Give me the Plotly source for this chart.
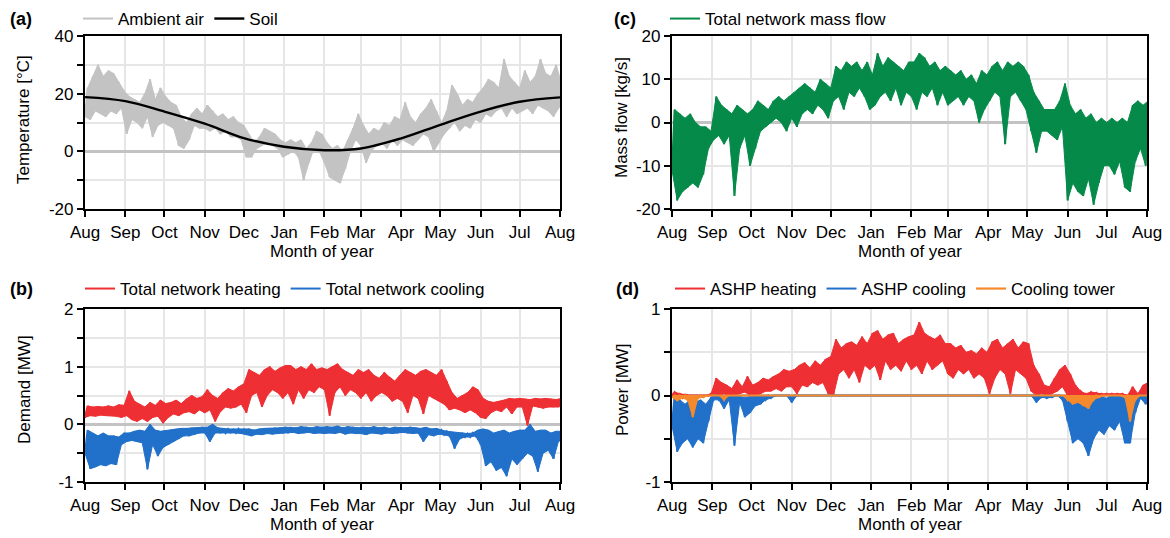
import pandas as pd
import plotly.graph_objects as go

# The page body has an 8px margin, so the figure is sized to fill the rest of the window.
OFF = 8
W, H = 1170 - OFF, 538 - OFF
base = pd.Timestamp("2018-08-01")
months = ["Aug", "Sep", "Oct", "Nov", "Dec", "Jan", "Feb", "Mar", "Apr", "May", "Jun", "Jul", "Aug"]
month_starts = pd.date_range("2018-08-01", "2019-08-01", freq="MS")

# 4-day steps (92 per series): rows = Aug, Sep, Oct, Nov, Dec, Jan, Feb, Mar, Apr, May, Jun, Jul
# counts per row: 8,8,7,8,8,7,7,8,8,7,8,8
air_hi = [22, 26, 30, 26, 28, 27, 24, 21,
          19, 18, 17, 20, 25, 18, 22, 19,
          17, 16, 12, 10, 13, 15, 13,
          16, 14, 12, 13, 11, 12, 10, 9,
          6, 3, 5, 8, 7, 6, 4, 3,
          4, 3, 4, 1, 3, 7, 6,
          3, 1, 2, 0, 4, 8, 13,
          9, 6, 8, 7, 10, 9, 12, 11,
          17, 12, 10, 13, 15, 18, 14, 10,
          14, 23, 20, 16, 18, 17, 20,
          22, 25, 24, 22, 32, 26, 24, 22,
          28, 24, 26, 32, 27, 26, 30, 24]
air_lo = [12, 11, 14, 13, 12, 14, 13, 15,
          6, 11, 10, 8, 12, 5, 9, 10,
          9, 8, 2, 1, 4, 9, 8,
          8, 7, 8, 6, 7, 5, 5, 4,
          -2, -2, 1, 2, 3, 2, 1, -2,
          -1, 0, -2, -10, -4, 1, 0,
          -4, -9, -10, -11, -6, 0, 4,
          2, -4, 0, 2, 3, 1, 4, 2,
          4, 3, 2, 4, 6, 5, 0, 3,
          6, 8, 10, 7, 9, 8, 11,
          10, 13, 12, 14, 15, 12, 15, 13,
          14, 15, 13, 16, 15, 14, 12, 15]
# soil temperature at month starts (Aug .. Aug)
soil_month = [18.8, 17.4, 13.8, 9.6, 4.6, 1.6, 0.4, 1.0, 4.5, 9.2, 13.8, 17.2, 18.7]

heat_hi = [0.32, 0.30, 0.31, 0.30, 0.32, 0.30, 0.34, 0.33,
           0.58, 0.40, 0.35, 0.30, 0.38, 0.33, 0.42, 0.36,
           0.38, 0.42, 0.36, 0.44, 0.50, 0.45, 0.48,
           0.60, 0.50, 0.45, 0.55, 0.62, 0.58, 0.65, 0.70,
           0.95, 0.90, 0.85, 0.95, 1.00, 0.92, 0.98, 1.02,
           1.02, 0.95, 1.00, 0.95, 1.05, 0.95, 0.98,
           0.95, 1.00, 1.05, 0.95, 0.90, 0.85, 0.95,
           0.90, 0.95, 0.85, 0.80, 0.90, 0.82, 0.75, 0.85,
           0.95, 0.90, 0.85, 0.92, 0.95, 0.90, 0.85, 0.95,
           0.75, 0.55, 0.45, 0.50, 0.55, 0.65, 0.60,
           0.45, 0.40, 0.38, 0.40, 0.42, 0.45, 0.44, 0.45,
           0.44, 0.43, 0.45, 0.44, 0.45, 0.44, 0.43, 0.45]
heat_lo = [0.12, 0.15, 0.14, 0.16, 0.15, 0.15, 0.14, 0.12,
           0.15, 0.08, 0.05, 0.10, 0.05, 0.12, 0.14, 0.02,
           0.12, 0.18, 0.15, 0.20, 0.22, 0.18, 0.25,
           0.20, 0.25, 0.05, 0.22, 0.30, 0.28, 0.30, 0.35,
           0.20, 0.50, 0.55, 0.30, 0.50, 0.60, 0.55, 0.45,
           0.55, 0.35, 0.60, 0.45, 0.60, 0.55, 0.65,
           0.60, 0.15, 0.55, 0.65, 0.50, 0.60, 0.55,
           0.45, 0.55, 0.40, 0.50, 0.55, 0.50, 0.40, 0.45,
           0.40, 0.20, 0.50, 0.45, 0.18, 0.50, 0.45, 0.40,
           0.35, 0.25, 0.28, 0.25, 0.20, 0.25, 0.20,
           0.12, 0.10, 0.20, 0.25, 0.22, 0.30, 0.18, 0.30,
           0.30, -0.02, 0.32, 0.30, 0.28, 0.30, 0.30, 0.30]
cool_hi = [-0.10, -0.15, -0.20, -0.15, -0.20, -0.20, -0.22, -0.15,
           -0.15, -0.12, -0.10, -0.12, 0.00, -0.10, -0.12, -0.10,
           -0.10, -0.08, -0.07, -0.07, -0.06, -0.06, -0.05,
           -0.05, 0.00, -0.06, -0.07, -0.08, -0.09, -0.08, -0.08,
           -0.08, -0.10, -0.08, -0.07, -0.07, -0.06, -0.06, -0.05,
           -0.05, -0.06, -0.04, -0.05, -0.06, -0.04, -0.05,
           -0.04, -0.05, -0.03, -0.06, -0.04, -0.05, -0.06,
           -0.05, -0.06, -0.04, -0.06, -0.05, -0.07, -0.05, -0.06,
           -0.06, -0.05, -0.06, -0.07, -0.05, -0.08, -0.07, -0.10,
           -0.12, -0.14, -0.15, -0.15, -0.16, -0.15, -0.10,
           -0.08, -0.10, -0.15, -0.12, -0.10, -0.15, -0.12, -0.10,
           -0.10, 0.00, -0.12, -0.10, -0.10, -0.15, -0.12, -0.12]
cool_lo = [-0.50, -0.77, -0.74, -0.70, -0.72, -0.68, -0.70, -0.35,
           -0.30, -0.28, -0.30, -0.32, -0.78, -0.35, -0.55, -0.40,
           -0.35, -0.30, -0.25, -0.20, -0.20, -0.18, -0.15,
           -0.15, -0.30, -0.15, -0.15, -0.15, -0.14, -0.15, -0.16,
           -0.18, -0.20, -0.17, -0.18, -0.16, -0.17, -0.16, -0.15,
           -0.15, -0.14, -0.16, -0.15, -0.14, -0.16, -0.15,
           -0.16, -0.15, -0.16, -0.14, -0.17, -0.15, -0.16,
           -0.16, -0.18, -0.15, -0.16, -0.17, -0.15, -0.16, -0.15,
           -0.14, -0.15, -0.16, -0.15, -0.30, -0.18, -0.20, -0.17,
           -0.18, -0.20, -0.42, -0.25, -0.22, -0.22, -0.20,
           -0.35, -0.72, -0.65, -0.80, -0.75, -0.90, -0.60, -0.70,
           -0.60, -0.50, -0.55, -0.82, -0.50, -0.45, -0.60, -0.30]

flow_hi = [3, 2, 1, 2, 0, -1, -1, -2,
           6, 4, 3, 2, 4, 3, 2, 3,
           5, 4, 3, 5, 6, 5, 6,
           7, 8, 9, 8, 7, 10, 9, 8,
           13, 12, 14, 13, 14, 12, 14, 11,
           16, 13, 15, 14, 13, 12, 14,
           14, 16, 15, 13, 14, 12, 13,
           12, 11, 12, 10, 11, 9, 12, 11,
           13, 14, 12, 14, 13, 14, 13, 11,
           7, 5, 3, 3, 3, 5, 9,
           4, 2, 3, 1, 2, 0, 1, 0,
           1, 0, 1, 0, 4, 5, 4, 5]
flow_lo = [-11, -18, -16, -15, -14, -15, -12, -6,
           -4, -3, -5, -3, -17, -6, -3, -10,
           -6, -2, -1, 0, 1, 0, -2,
           1, -1, 2, 3, 2, 4, 3, 1,
           5, 6, 3, 7, 6, 8, 6, 3,
           4, 6, 7, 5, 8, 4, 7,
           6, 3, 7, 6, 8, 4, 7,
           4, 5, 6, 4, 6, 5, 0, 3,
           5, 7, 6, -5, 6, 7, 5, 3,
           -2, -7, -2, -2, -3, -4, -1,
           -18, -14, -16, -17, -13, -19, -14, -10,
           -10, -12, -9, -15, -16, -9, -6, -10]

ashp_heat_hi = [0.04, 0.02, 0.01, 0.00, 0.00, 0.00, 0.00, 0.02,
                0.20, 0.15, 0.12, 0.08, 0.18, 0.10, 0.22, 0.12,
                0.15, 0.20, 0.18, 0.22, 0.25, 0.30, 0.28,
                0.30, 0.35, 0.38, 0.32, 0.40, 0.35, 0.42, 0.45,
                0.65, 0.55, 0.60, 0.62, 0.58, 0.68, 0.60, 0.72,
                0.75, 0.65, 0.70, 0.72, 0.60, 0.65, 0.68,
                0.70, 0.85, 0.72, 0.68, 0.65, 0.70, 0.60,
                0.60, 0.55, 0.58, 0.50, 0.52, 0.48, 0.55, 0.50,
                0.62, 0.65, 0.55, 0.60, 0.65, 0.55, 0.62, 0.60,
                0.35, 0.25, 0.12, 0.10, 0.20, 0.30, 0.35,
                0.25, 0.12, 0.05, 0.02, 0.04, 0.03, 0.02, 0.02,
                0.02, 0.02, 0.02, 0.00, 0.10, 0.02, 0.12, 0.15]
ashp_heat_lo = [0.00, 0.00, 0.00, 0.00, 0.00, 0.00, 0.00, 0.00,
                0.02, 0.00, 0.02, 0.00, 0.00, 0.02, 0.04, 0.00,
                0.00, 0.02, 0.05, 0.05, 0.08, 0.05, 0.10,
                0.10, 0.02, 0.12, 0.10, 0.15, 0.12, 0.15, 0.02,
                0.00, 0.25, 0.30, 0.20, 0.30, 0.15, 0.35, 0.30,
                0.35, 0.18, 0.40, 0.30, 0.35, 0.28, 0.40,
                0.30, 0.35, 0.25, 0.40, 0.30, 0.35, 0.40,
                0.25, 0.20, 0.30, 0.25, 0.30, 0.20, 0.25, 0.20,
                0.02, 0.20, 0.30, 0.25, 0.02, 0.30, 0.25, 0.20,
                0.05, 0.00, 0.02, 0.00, 0.02, 0.05, 0.10,
                0.00, 0.00, 0.00, 0.00, 0.00, 0.00, 0.00, 0.00,
                0.00, 0.00, 0.00, 0.00, 0.00, 0.00, 0.00, 0.00]
ashp_cool_hi = [0.00, -0.05, -0.10, -0.05, -0.08, -0.05, -0.10, -0.02,
                0.00, 0.00, -0.02, 0.00, 0.00, -0.02, -0.02, 0.00,
                0, 0, 0, 0, 0, 0, 0,
                0, 0, 0, 0, 0, 0, 0, 0,
                0, 0, 0, 0, 0, 0, 0, 0,
                0, 0, 0, 0, 0, 0, 0,
                0, 0, 0, 0, 0, 0, 0,
                0, 0, 0, 0, 0, 0, 0, 0,
                0, 0, 0, 0, 0, 0, 0, 0,
                0, 0, 0, 0, 0, 0, 0,
                -0.02, -0.05, -0.05, -0.02, -0.05, -0.03, -0.02, -0.03,
                0.00, 0.00, 0.00, -0.02, -0.05, 0.00, 0.00, 0.00]
ashp_cool_lo = [-0.35, -0.65, -0.55, -0.50, -0.60, -0.50, -0.55, -0.30,
                -0.05, -0.05, -0.15, -0.05, -0.58, -0.08, -0.25, -0.20,
                -0.12, -0.10, -0.05, -0.03, 0.00, 0.00, 0.00,
                -0.08, 0, 0, 0, 0, 0, 0, 0,
                0, 0, 0, 0, 0, 0, 0, 0,
                0, 0, 0, 0, 0, 0, 0,
                0, 0, 0, 0, 0, 0, 0,
                0, 0, 0, 0, 0, 0, 0, 0,
                0, 0, 0, 0, 0, 0, 0, 0,
                0.00, -0.08, -0.02, -0.03, -0.02, 0.00, -0.05,
                -0.30, -0.55, -0.50, -0.55, -0.70, -0.50, -0.40, -0.45,
                -0.35, -0.40, -0.30, -0.55, -0.55, -0.20, -0.03, -0.10]
tower_lo = [-0.02, -0.06, -0.03, -0.05, -0.25, -0.03, -0.02, 0.00,
            0.00, 0.00, -0.05, 0.00, 0.00, 0.00, 0.00, 0.00,
            0, 0, 0, 0, 0, 0, 0,
            0, 0, 0, 0, 0, 0, 0, 0,
            0, 0, 0, 0, 0, 0, 0, 0,
            0, 0, 0, 0, 0, 0, 0,
            0, 0, 0, 0, 0, 0, 0,
            0, 0, 0, 0, 0, 0, 0, 0,
            0, 0, 0, 0, 0, 0, 0, 0,
            0, 0, 0, 0, 0, 0, 0,
            -0.05, -0.10, -0.08, -0.12, -0.15, -0.05, -0.02, 0.00,
            0.00, 0.00, 0.00, -0.02, -0.30, -0.05, 0.00, 0.00]
tower_hi = [0.0] * 92

STEP = 4

RED = "#EE2F33"
BLUE = "#2170C9"
GREEN = "#058A49"
ORANGE = "#F5892C"
GRAY = "#C3C3C3"
FONT = "Liberation Sans, Arial, sans-serif"
FS = 17

fig = go.Figure()


def add(lo, hi, name, color, xa, ya, legend, width=2):
    assert len(lo) == 92 and len(hi) == 92
    t_lo = [base + pd.Timedelta(days=STEP * i) for i in range(len(lo))]
    t_hi = [base + pd.Timedelta(days=STEP * i + STEP / 2) for i in range(len(hi))]
    # filled envelope between the low and high readings
    fig.add_trace(go.Scatter(x=t_lo + t_hi[::-1], y=list(lo) + list(hi)[::-1],
                             mode="lines", fill="toself", fillcolor=color,
                             line=dict(color=color, width=1), hoverinfo="skip",
                             showlegend=False, xaxis=xa, yaxis=ya))
    # zigzag trace through the same readings (carries legend entry)
    xs, ys = [], []
    for a, b, ta, tb in zip(lo, hi, t_lo, t_hi):
        xs += [ta, tb]
        ys += [a, b]
    fig.add_trace(go.Scatter(x=xs, y=ys, mode="lines", name=name,
                             line=dict(color=color, width=width),
                             xaxis=xa, yaxis=ya, legend=legend))


add(air_lo, air_hi, "Ambient air", GRAY, "x", "y", "legend")
fig.add_trace(go.Scatter(x=list(month_starts), y=soil_month, mode="lines", name="Soil",
                         line=dict(color="black", width=2.4, shape="spline"),
                         xaxis="x", yaxis="y", legend="legend"))
add(heat_lo, heat_hi, "Total network heating", RED, "x2", "y2", "legend2")
add(cool_lo, cool_hi, "Total network cooling", BLUE, "x2", "y2", "legend2")
add(flow_lo, flow_hi, "Total network mass flow", GREEN, "x3", "y3", "legend3")
add(ashp_heat_lo, ashp_heat_hi, "ASHP heating", RED, "x4", "y4", "legend4")
add(ashp_cool_lo, ashp_cool_hi, "ASHP cooling", BLUE, "x4", "y4", "legend4")
add(tower_lo, tower_hi, "Cooling tower", ORANGE, "x4", "y4", "legend4", width=2.2)


def px_x(p):
    # p is a pixel position in the 1170x538 window
    return (p - OFF) / W


def px_y(p):
    return 1 - (p - OFF) / H


dom_left = [px_x(85), px_x(560)]
dom_right = [px_x(672), px_x(1147)]
dom_top = [px_y(209), px_y(36)]
dom_bot = [px_y(482), px_y(309)]

xcommon = dict(type="date", range=[month_starts[0], month_starts[-1]],
               tickvals=list(month_starts), ticktext=months,
               ticks="outside", ticklen=6, tickwidth=2, tickcolor="black",
               showline=True, linewidth=2.2, linecolor="black", mirror=True,
               showgrid=True, gridcolor="#E6E6E6", gridwidth=1.5,
               tickfont=dict(size=FS, color="black"), zeroline=False)


def ycommon(rng, vals, texts):
    return dict(range=rng, tickvals=vals, ticktext=texts,
                ticks="outside", ticklen=6, tickwidth=2, tickcolor="black",
                showline=True, linewidth=2.2, linecolor="black", mirror=True,
                showgrid=True, gridcolor="#E6E6E6", gridwidth=1.5,
                zeroline=True, zerolinecolor=GRAY, zerolinewidth=2.5,
                tickfont=dict(size=FS, color="black"))


fig.update_layout(
    width=W, height=H, margin=dict(l=0, r=0, t=0, b=0, autoexpand=False),
    paper_bgcolor="white", plot_bgcolor="white",
    font=dict(family=FONT, size=FS, color="black"),
    xaxis=dict(xcommon, domain=dom_left, anchor="y"),
    xaxis2=dict(xcommon, domain=dom_left, anchor="y2"),
    xaxis3=dict(xcommon, domain=dom_right, anchor="y3"),
    xaxis4=dict(xcommon, domain=dom_right, anchor="y4"),
    yaxis=dict(ycommon([-20, 40], [-20, -10, 0, 10, 20, 30, 40],
                       ["-20", "", "0", "", "20", "", "40"]),
               domain=dom_top, anchor="x"),
    yaxis2=dict(ycommon([-1, 2], [-1, -0.5, 0, 0.5, 1, 1.5, 2],
                        ["-1", "", "0", "", "1", "", "2"]),
                domain=dom_bot, anchor="x2"),
    yaxis3=dict(ycommon([-20, 20], [-20, -10, 0, 10, 20],
                        ["-20", "-10", "0", "10", "20"]),
                domain=dom_top, anchor="x3"),
    yaxis4=dict(ycommon([-1, 1], [-1, -0.5, 0, 0.5, 1],
                        ["-1", "", "0", "", "1"]),
                domain=dom_bot, anchor="x4"),
    showlegend=True,
)

leg = dict(orientation="h", xanchor="left", yanchor="middle",
           bgcolor="rgba(0,0,0,0)", font=dict(size=FS, color="black"),
           itemwidth=30, tracegroupgap=0)
fig.update_layout(
    legend=dict(leg, x=px_x(78), y=px_y(19)),
    legend2=dict(leg, x=px_x(80), y=px_y(289)),
    legend3=dict(leg, x=px_x(665), y=px_y(19)),
    legend4=dict(leg, x=px_x(670), y=px_y(289)),
)

# panel letters
for txt, xp, yp in [("(a)", 8, 19), ("(b)", 8, 289), ("(c)", 612, 19), ("(d)", 614, 289)]:
    fig.add_annotation(text="<b>%s</b>" % txt, x=px_x(xp), y=px_y(yp), xref="paper", yref="paper",
                       xanchor="left", yanchor="middle", showarrow=False,
                       font=dict(size=18, color="black", family=FONT))

# axis titles
ytitles = [("Temperature [°C]", 24, 120), ("Demand [MW]", 24, 390),
           ("Mass flow [kg/s]", 622, 118), ("Power [MW]", 622, 390)]
for txt, xp, yp in ytitles:
    fig.add_annotation(text=txt, x=px_x(xp), y=px_y(yp), xref="paper", yref="paper",
                       xanchor="center", yanchor="middle", textangle=-90, showarrow=False,
                       font=dict(size=FS, color="black", family=FONT))
for xp, yp in [(322, 251), (322, 524), (910, 251), (910, 524)]:
    fig.add_annotation(text="Month of year", x=px_x(xp), y=px_y(yp), xref="paper", yref="paper",
                       xanchor="center", yanchor="middle", showarrow=False,
                       font=dict(size=FS, color="black", family=FONT))

fig.write_html("out.html")
